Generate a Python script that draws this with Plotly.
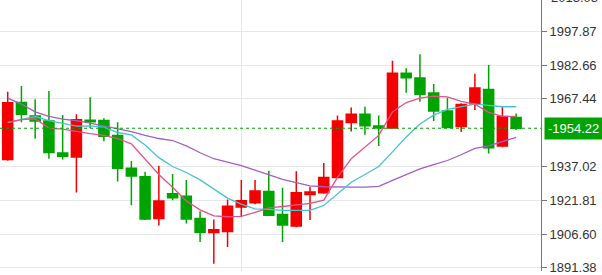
import plotly.graph_objects as go

# ---- data ----
opens  = [1940.2, 1965.8, 1959.7, 1957.5, 1943.1, 1941.3, 1957.8, 1957.7, 1951.0, 1936.2,
          1932.4, 1913.6, 1924.7, 1923.6, 1913.6, 1907.3, 1907.7, 1918.8, 1920.7, 1925.8,
          1915.4, 1910.2, 1924.4, 1925.2, 1932.1, 1956.8, 1960.5, 1955.2, 1954.3, 1979.0,
          1976.8, 1970.1, 1962.0, 1955.0, 1965.2, 1971.7, 1946.2, 1959.0]
highs  = [1970.6, 1973.2, 1967.3, 1971.0, 1960.2, 1960.5, 1968.2, 1958.7, 1956.9, 1939.5,
          1934.6, 1937.3, 1933.6, 1930.9, 1916.9, 1913.2, 1922.2, 1930.9, 1930.9, 1935.1,
          1927.4, 1934.9, 1927.9, 1938.6, 1959.9, 1963.6, 1963.9, 1959.9, 1984.6, 1981.2,
          1987.5, 1974.1, 1967.9, 1965.5, 1978.7, 1982.7, 1963.9, 1960.8]
lows   = [1939.6, 1956.9, 1949.5, 1940.5, 1940.1, 1925.3, 1954.3, 1948.4, 1930.2, 1919.6,
          1912.9, 1910.4, 1921.8, 1911.4, 1903.0, 1893.2, 1900.8, 1914.4, 1920.0, 1914.8,
          1903.0, 1909.7, 1912.9, 1924.7, 1931.7, 1952.8, 1951.3, 1946.2, 1954.1, 1970.2,
          1966.1, 1957.5, 1954.3, 1952.5, 1962.4, 1942.8, 1945.7, 1953.4]
closes = [1965.7, 1960.5, 1957.5, 1943.3, 1941.6, 1958.0, 1957.1, 1950.6, 1936.2, 1932.7,
          1913.4, 1921.5, 1922.9, 1913.4, 1907.4, 1908.5, 1919.1, 1921.6, 1926.0, 1915.1,
          1910.7, 1925.2, 1925.5, 1932.1, 1957.5, 1960.5, 1955.3, 1954.3, 1979.0, 1976.9,
          1969.5, 1962.0, 1954.6, 1964.9, 1972.3, 1945.4, 1959.5, 1954.22]

ma_fast = [1956.9, 1958.1, 1958.5, 1954.3, 1953.8, 1952.7, 1951.8, 1951.0, 1949.6, 1947.2,
           1940.5, 1933.4, 1927.7, 1921.5, 1917.5, 1914.8, 1914.4, 1914.6, 1916.4, 1918.4,
           1919.0, 1919.7, 1920.4, 1921.9, 1932.1, 1940.5, 1945.6, 1951.0, 1961.6, 1965.8,
           1967.8, 1968.7, 1968.3, 1966.3, 1965.1, 1961.4, 1959.6, 1959.5]
ma_mid  = [1956.7, 1958.1, 1959.5, 1957.6, 1956.3, 1955.2, 1955.3, 1954.7, 1952.3, 1951.2,
           1946.7, 1941.0, 1937.0, 1934.3, 1931.0, 1926.8, 1922.8, 1920.1, 1917.9, 1917.7,
           1917.3, 1917.3, 1917.3, 1919.5, 1924.8, 1929.9, 1933.4, 1937.0, 1943.6, 1950.3,
           1956.1, 1960.1, 1962.7, 1964.0, 1965.1, 1964.5, 1963.9, 1963.9]
ma_slow = [1967.8, 1965.1, 1961.6, 1959.6, 1958.3, 1957.6, 1956.5, 1955.2, 1954.1, 1952.7,
           1951.0, 1949.6, 1948.7, 1946.3, 1943.2, 1940.5, 1939.0, 1937.4, 1935.4, 1933.4,
           1931.2, 1929.7, 1928.3, 1927.9, 1927.7, 1927.7, 1927.7, 1928.1, 1930.8, 1933.4,
           1935.9, 1937.9, 1939.7, 1942.3, 1945.2, 1946.3, 1948.1, 1950.1]

tick_values = [2013.08, 1997.87, 1982.66, 1967.44, 1937.02, 1921.81, 1906.60, 1891.38]
tick_labels = ["2013.08", "1997.87", "1982.66", "1967.44", "1937.02", "1921.81", "1906.60", "1891.38"]
last_price = 1954.22
grid_x = [17]

x = list(range(len(opens)))
y_min, y_max = 1889.98, 2011.93
x_min, x_max = -0.56, 38.81

RED = "#f40000"
GREEN = "#00a400"

fig = go.Figure()
fig.add_trace(go.Candlestick(
    x=x, open=opens, high=highs, low=lows, close=closes,
    increasing=dict(line=dict(color=RED, width=1.5), fillcolor=RED),
    decreasing=dict(line=dict(color=GREEN, width=1.5), fillcolor=GREEN),
    whiskerwidth=0, hoverinfo="skip", showlegend=False,
))
for series, col in [(ma_slow, "#a45ec4"), (ma_mid, "#45c4d4"), (ma_fast, "#e8508a")]:
    fig.add_trace(go.Scatter(x=x, y=series, mode="lines",
                             line=dict(color=col, width=1.3), hoverinfo="skip",
                             showlegend=False))

fig.add_shape(type="line", xref="paper", x0=0, x1=1, yref="y", y0=last_price, y1=last_price,
              line=dict(color=GREEN, width=1, dash="dot"))

fig.add_annotation(xref="paper", x=1, xanchor="left", xshift=3, yref="y", y=last_price,
                   text=f"-{last_price:.2f}", showarrow=False, bgcolor=GREEN,
                   font=dict(color="white", size=13, family="Liberation Sans"),
                   borderpad=3)

# partially visible label above the plot top
top_frac = (tick_values[0] - y_min) / (y_max - y_min)
fig.add_annotation(xref="paper", x=1, xanchor="left", xshift=8, yref="paper", y=top_frac,
                   yanchor="middle", text=tick_labels[0], showarrow=False,
                   font=dict(color="#333333", size=13, family="Liberation Sans"))

fig.update_layout(
    width=602, height=275,
    margin=dict(l=0, r=61, t=0, b=0),
    paper_bgcolor="white", plot_bgcolor="white",
    showlegend=False,
    boxgap=0.27, boxgroupgap=0,
    xaxis=dict(range=[x_min, x_max], rangeslider=dict(visible=False),
               tickvals=grid_x, showticklabels=False, ticks="",
               showgrid=True, gridcolor="#e3e8ef", gridwidth=1, zeroline=False,
               showline=False, fixedrange=True),
    yaxis=dict(range=[y_min, y_max], side="right", tickvals=tick_values, ticktext=tick_labels,
               showgrid=True, gridcolor="#e8e8e8", gridwidth=1, zeroline=False,
               showline=True, linecolor="#777777", linewidth=1,
               ticks="outside", ticklen=5, tickcolor="#777777",
               ticklabeloverflow="allow",
               tickfont=dict(color="#333333", size=13, family="Liberation Sans"),
               fixedrange=True),
)

fig.write_html("out.html")
